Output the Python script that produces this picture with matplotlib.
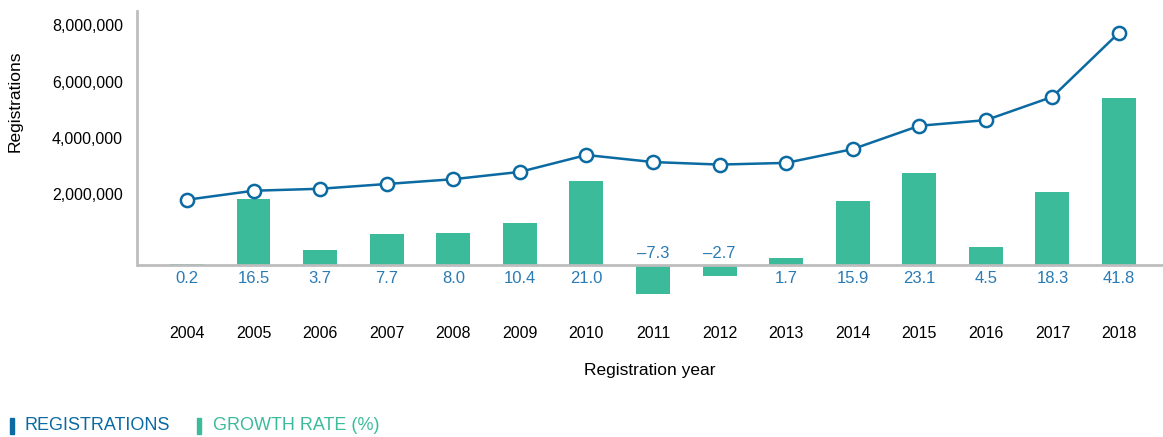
import numpy as np
import matplotlib.pyplot as plt
from matplotlib.patches import Rectangle

plt.rcParams['font.family'] = ['Liberation Sans', 'DejaVu Sans']

# Datos
years = ['2004', '2005', '2006', '2007', '2008', '2009', '2010', '2011',
         '2012', '2013', '2014', '2015', '2016', '2017', '2018']
registrations = [1800000, 2120000, 2190000, 2360000, 2530000, 2790000, 3390000,
                 3140000, 3050000, 3110000, 3600000, 4430000, 4630000, 5460000, 7740000]
growth = [0.2, 16.5, 3.7, 7.7, 8.0, 10.4, 21.0, -7.3, -2.7, 1.7, 15.9, 23.1, 4.5, 18.3, 41.8]
y_ticks = [2000000, 4000000, 6000000, 8000000]

line_color = '#0b6aa2'
bar_color = '#3cbb9b'
label_color = '#2a7bb4'
grey = '#bdbdbd'

W, H = 1163, 437
fig = plt.figure(figsize=(W / 100, H / 100), dpi=100)
ax = fig.add_axes([137 / W, (H - 301) / H, (W - 137) / W, 290 / H])
ax2 = ax.twinx()

x = np.arange(len(years))

# Barras de crecimiento (eje secundario, sin marcas)
ax2.bar(x, growth, width=0.51, color=bar_color, zorder=2)
ax2.set_ylim(-9, 63.5)
ax2.axhline(0, color=grey, lw=2, zorder=3)
ax2.set_yticks([])
for i, g in enumerate(growth):
    off = 8 if g < 0 else -10
    ax2.annotate(f'{g:.1f}'.replace('-', '\u2013'), (i, 0), xytext=(0, off),
                 textcoords='offset points', ha='center', va='center',
                 fontsize=12, color=label_color)

# Linea de registros encima de las barras
ax.set_zorder(2)
ax.patch.set_visible(False)
ax.plot(x, registrations, color=line_color, lw=1.8, marker='o', ms=9.5,
        mfc='white', mec=line_color, mew=1.8, zorder=4, clip_on=False)
ax.set_ylim(-1.80e6, 8.51e6)
ax.set_xlim(-0.75, 14.66)
ax.set_yticks(y_ticks)
ax.set_yticklabels([f'{v:,}' for v in y_ticks], fontsize=11.5)
ax.tick_params(axis='y', length=0, pad=10)

for a in (ax, ax2):
    for s in a.spines.values():
        s.set_visible(False)
ax.spines['left'].set_visible(True)
ax.spines['left'].set_color(grey)
ax.spines['left'].set_linewidth(2)
ax.spines['left'].set_bounds(-0.53e6, 8.51e6)

ax.set_xticks(x)
ax.set_xticklabels(years, fontsize=11.5)
ax.tick_params(axis='x', length=0, pad=18)

fig.text(650 / W, 1 - 370 / H, 'Registration year', ha='center', va='center', fontsize=12.5)
fig.text(15 / W, 1 - 101 / H, 'Registrations', rotation=90, ha='center', va='center', fontsize=12.5)

# Leyenda
fig.add_artist(Rectangle((10 / W, 1 - 434 / H), 4 / W, 16 / H, color=line_color,
                         transform=fig.transFigure))
fig.text(25 / W, 1 - 426 / H, 'REGISTRATIONS', color=line_color, va='center', fontsize=13)
fig.add_artist(Rectangle((197 / W, 1 - 434 / H), 4 / W, 16 / H, color=bar_color,
                         transform=fig.transFigure))
fig.text(213 / W, 1 - 426 / H, 'GROWTH RATE (%)', color=bar_color, va='center', fontsize=13)

fig.savefig('out.png', dpi=100)
